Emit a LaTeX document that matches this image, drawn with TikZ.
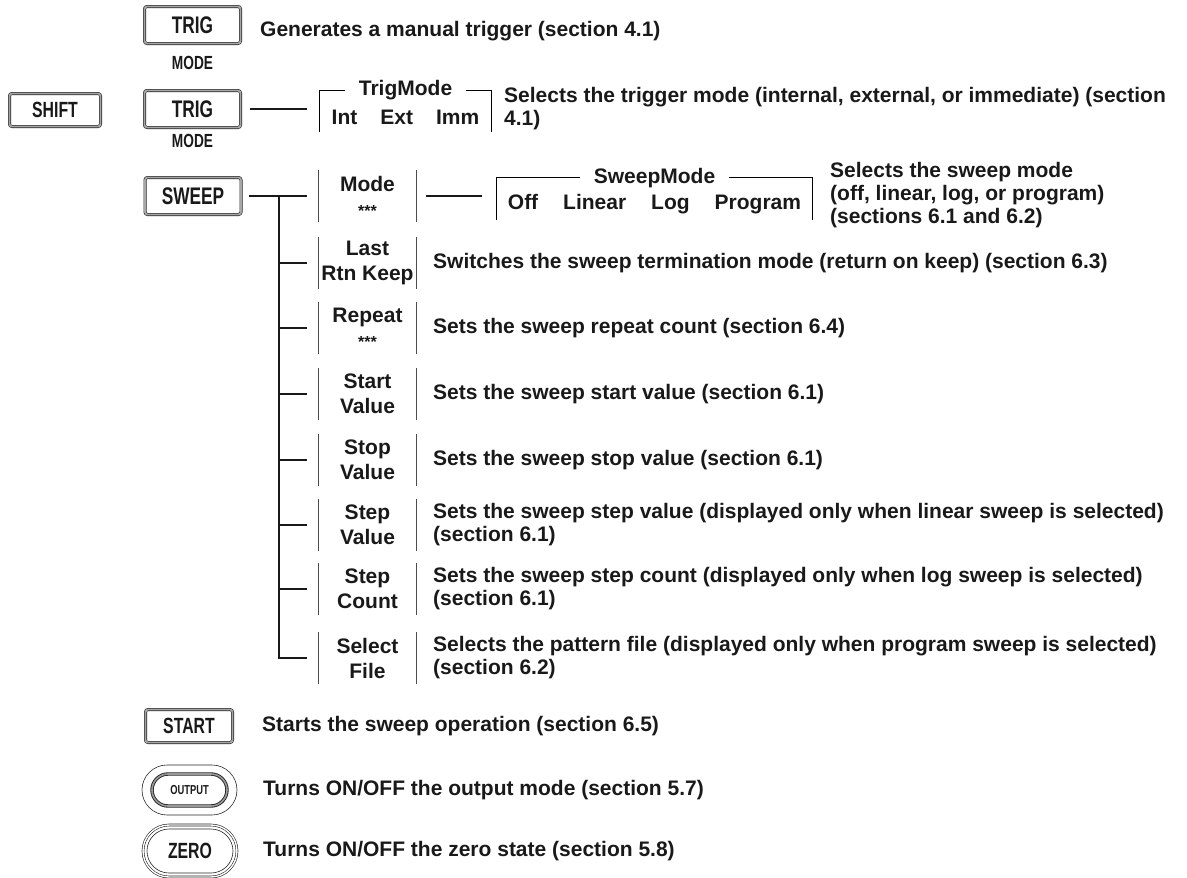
\documentclass[tikz,border=0pt]{standalone}
\usepackage{fontspec}
\setmainfont{Liberation Sans}
\newfontfamily\keyfont[FakeStretch=0.72]{Liberation Sans}
\usetikzlibrary{positioning,shapes.misc}
\newcommand{\stars}{{\fontsize{16}{16}\selectfont ***}}

\begin{document}
\begin{tikzpicture}[x=1pt,y=-1pt,
  every node/.style={text=black!90},
  keybtn/.style={draw=black!85,double=black!35,double distance=1.8pt,line width=0.6pt,
    rounded corners=2.5pt,inner sep=0pt,minimum width=96pt,minimum height=37pt,
    font=\keyfont\bfseries\fontsize{24}{24}\selectfont},
  roundbtn/.style={rounded rectangle,draw=black!85,line width=0.6pt,inner sep=0pt,
    font=\keyfont\bfseries\fontsize{22}{22}\selectfont},
  sublabel/.style={font=\keyfont\bfseries\fontsize{19}{19}\selectfont},
  softkey/.style={inner sep=0pt,minimum width=97pt,minimum height=52pt,align=center,
    font=\bfseries\fontsize{21}{25}\selectfont},
  desc/.style={anchor=west,inner sep=0pt,align=left,
    font=\bfseries\fontsize{21}{23}\selectfont},
  % group frames: title sits in a gap of the top rule
  groupbox/.style={inner sep=0pt,minimum height=41pt},
  grouptitle/.style={inner xsep=14pt,inner ysep=0pt,font=\bfseries\fontsize{21}{21}\selectfont},
  groupitems/.style={inner sep=0pt,font=\bfseries\fontsize{21}{21}\selectfont},
  bar/.style={draw=black!70,line width=1.3pt},
  link/.style={draw=black!90,line width=1.1pt}
]
\useasboundingbox (0,0) rectangle (1187,878);

% ---- TRIG (manual trigger) ----
\node[keybtn] (trig1) at (192.5,25) {TRIG};
\node[sublabel] (trig1mode) at (192.5,63) {MODE};
\node[desc] (trig1desc) at (260,31) {Generates a manual trigger (section 4.1)};

% ---- SHIFT + TRIG (trigger mode) ----
\node[keybtn,minimum width=91pt,minimum height=33pt,
  font=\keyfont\bfseries\fontsize{22}{22}\selectfont] (shift) at (55,110) {SHIFT};
\node[keybtn] (trig2) at (192.5,109) {TRIG};
\node[sublabel] (trig2mode) at (192.5,141) {MODE};
\node[groupbox,minimum width=171pt] (tmbox) at (405.5,111) {};
\node[grouptitle] (tmtitle) at (tmbox.north) {TrigMode};
\node[groupitems] (tmitems) at (405.5,117) {Int\hspace{23pt}Ext\hspace{23pt}Imm};
\draw[bar,draw=black] (tmtitle.west) -| (tmbox.south west);
\draw[bar,draw=black] (tmtitle.east) -| (tmbox.south east);
\draw[link,shorten <=9pt,shorten >=13pt] (trig2.east) -- (trig2.east -| tmbox.west);
\node[desc] (tmdesc) at (504,108.5)
  {Selects the trigger mode (internal, external, or immediate) (section\\4.1)};

% ---- SWEEP and its soft keys ----
\node[keybtn] (sweep) at (193,196) {SWEEP};
\node[softkey] (kMode)   at (367.5,196) {Mode\\\stars};
\node[softkey] (kLast)   at (367.5,263) {Last\\Rtn Keep};
\node[softkey] (kRepeat) at (367.5,328) {Repeat\\\stars};
\node[softkey] (kStartV) at (367.5,394) {Start\\Value};
\node[softkey] (kStopV)  at (367.5,460) {Stop\\Value};
\node[softkey] (kStepV)  at (367.5,525) {Step\\Value};
\node[softkey] (kStepC)  at (367.5,589) {Step\\Count};
\node[softkey] (kSelF)   at (367.5,658) {Select\\File};
\foreach \k in {kMode,kLast,kRepeat,kStartV,kStopV,kStepV,kStepC,kSelF}
  \draw[bar] (\k.north west) -- (\k.south west) (\k.north east) -- (\k.south east);

\coordinate (trunk) at (279,196);
\draw[link,shorten <=8pt,shorten >=12pt] (sweep.east) -- (sweep.east -| kMode.west);
\foreach \k in {kLast,kRepeat,kStartV,kStopV,kStepV,kStepC,kSelF}
  \draw[link,shorten >=12pt] (trunk) |- (\k.west);

% ---- Mode -> SweepMode ----
\node[groupbox,minimum width=315pt,minimum height=42pt] (swbox) at (654.5,199) {};
\node[grouptitle] (swtitle) at (swbox.north) {SweepMode};
\node[groupitems] (switems) at (654.5,204)
  {Off\hspace{25pt}Linear\hspace{25pt}Log\hspace{25pt}Program};
\draw[bar,draw=black] (swtitle.west) -| (swbox.south west);
\draw[bar,draw=black] (swtitle.east) -| (swbox.south east);
\draw[link,shorten <=10pt,shorten >=15pt] (kMode.east) -- (kMode.east -| swbox.west);
\node[desc] (swdesc) at (830,195)
  {Selects the sweep mode\\(off, linear, log, or program)\\(sections 6.1 and 6.2)};

% ---- soft key descriptions ----
\node[desc] (dLast)   at (433,263) {Switches the sweep termination mode (return on keep) (section 6.3)};
\node[desc] (dRepeat) at (433,328) {Sets the sweep repeat count (section 6.4)};
\node[desc] (dStartV) at (433,394) {Sets the sweep start value (section 6.1)};
\node[desc] (dStopV)  at (433,460) {Sets the sweep stop value (section 6.1)};
\node[desc] (dStepV)  at (433,525)
  {Sets the sweep step value (displayed only when linear sweep is selected)\\(section 6.1)};
\node[desc] (dStepC)  at (433,589)
  {Sets the sweep step count (displayed only when log sweep is selected)\\(section 6.1)};
\node[desc] (dSelF)   at (433,658)
  {Selects the pattern file (displayed only when program sweep is selected)\\(section 6.2)};

% ---- START / OUTPUT / ZERO ----
\node[keybtn,minimum width=87pt,minimum height=33pt,
  font=\keyfont\bfseries\fontsize{22}{22}\selectfont] (start) at (189,726) {START};
\node[desc] (startdesc) at (262,726) {Starts the sweep operation (section 6.5)};

\node[roundbtn,minimum width=95pt,minimum height=50pt] (outring) at (189.5,790) {};
\node[roundbtn,double=black!40,double distance=1.6pt,line width=0.9pt,
  minimum width=75pt,minimum height=32pt,
  font=\keyfont\bfseries\fontsize{13}{13}\selectfont] (output) at (189.5,790) {OUTPUT};
\node[desc] (outdesc) at (263,790) {Turns ON/OFF the output mode (section 5.7)};

\node[roundbtn,double=white,double distance=1.4pt,
  minimum width=94pt,minimum height=52pt] (zero) at (190,851) {ZERO};
\node[roundbtn,minimum width=86pt,minimum height=44pt] (zeroring) at (190,851) {};
\node[desc] (zerodesc) at (263,851) {Turns ON/OFF the zero state (section 5.8)};
\end{tikzpicture}
\end{document}
